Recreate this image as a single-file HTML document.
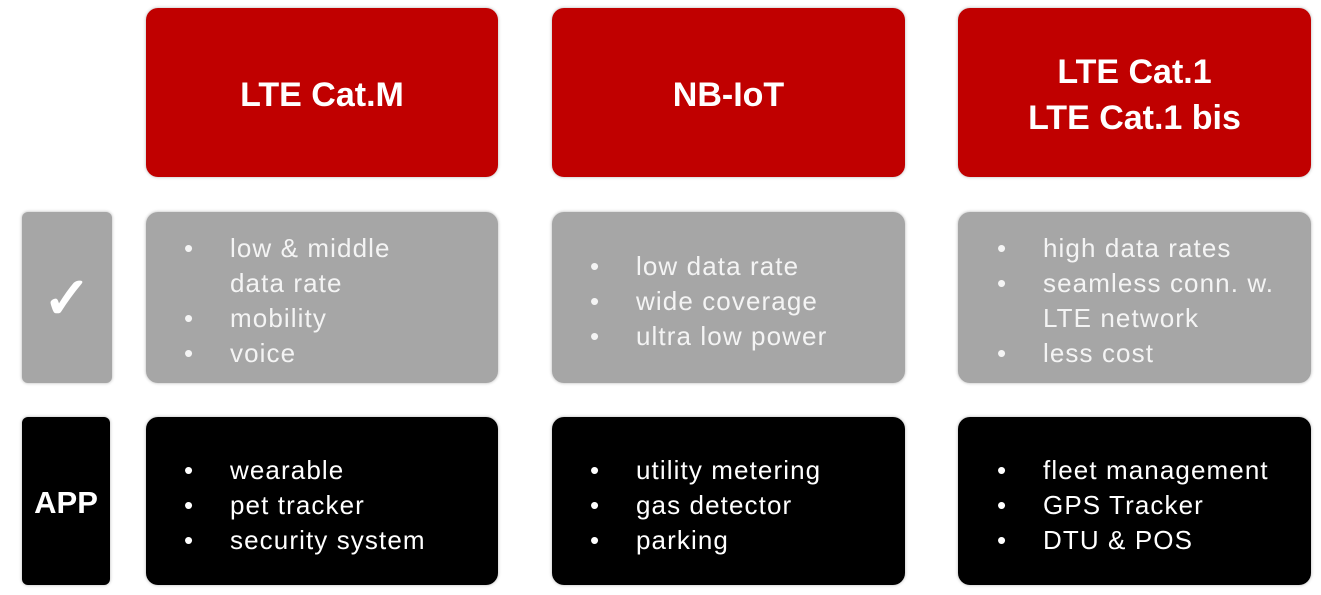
<!DOCTYPE html>
<html><head><style>
body{margin:0;width:1321px;height:595px;background:#fff;position:relative;overflow:hidden;font-family:"Liberation Sans",sans-serif;}
.b{position:absolute;border-radius:12px;box-shadow:0 0 3px rgba(0,0,0,.3);}
.r{background:#c00000;color:#fff;font-weight:bold;font-size:34px;display:flex;align-items:center;justify-content:center;text-align:center;line-height:46px;padding-top:4px;box-sizing:border-box;}
.g{background:#a6a6a6;color:#f4f4f4;}
.k{background:#000;color:#fff;}
.t{position:absolute;font-size:26px;white-space:nowrap;letter-spacing:1.1px;line-height:35px;}
.t span{position:absolute;left:-46px;}
</style></head><body>
<div class="b r" style="left:146px;top:8px;width:352px;height:169px">LTE Cat.M</div>
<div class="b r" style="left:552px;top:8px;width:353px;height:169px">NB-IoT</div>
<div class="b r" style="left:958px;top:8px;width:353px;height:169px">LTE Cat.1<br>LTE Cat.1 bis</div>

<div class="b g" style="left:22px;top:212px;width:90px;height:171px;border-radius:6px;display:flex;align-items:center;justify-content:center;font-size:58px;font-weight:bold;color:#fff">✓</div>
<div class="b g" style="left:146px;top:212px;width:352px;height:171px"></div>
<div class="b g" style="left:552px;top:212px;width:353px;height:171px"></div>
<div class="b g" style="left:958px;top:212px;width:353px;height:171px"></div>

<div class="b k" style="left:22px;top:417px;width:88px;height:168px;border-radius:6px;display:flex;align-items:center;justify-content:center;font-size:31px;font-weight:bold;padding-top:4px;box-sizing:border-box">APP</div>
<div class="b k" style="left:146px;top:417px;width:352px;height:168px"></div>
<div class="b k" style="left:552px;top:417px;width:353px;height:168px"></div>
<div class="b k" style="left:958px;top:417px;width:353px;height:168px"></div>

<div class="t" style="left:230px;top:231px;color:#f4f4f4"><span>•</span>low &amp; middle<br>data rate<br><span style="top:70px">•</span>mobility<br><span style="top:105px">•</span>voice</div>
<div class="t" style="left:636px;top:249px;color:#f4f4f4"><span>•</span>low data rate<br><span style="top:35px">•</span>wide coverage<br><span style="top:70px">•</span>ultra low power</div>
<div class="t" style="left:1043px;top:231px;color:#f4f4f4"><span>•</span>high data rates<br><span style="top:35px">•</span>seamless conn. w.<br>LTE network<br><span style="top:105px">•</span>less cost</div>

<div class="t" style="left:230px;top:453px;color:#fff"><span>•</span>wearable<br><span style="top:35px">•</span>pet tracker<br><span style="top:70px">•</span>security system</div>
<div class="t" style="left:636px;top:453px;color:#fff"><span>•</span>utility metering<br><span style="top:35px">•</span>gas detector<br><span style="top:70px">•</span>parking</div>
<div class="t" style="left:1043px;top:453px;color:#fff"><span>•</span>fleet management<br><span style="top:35px">•</span>GPS Tracker<br><span style="top:70px">•</span>DTU &amp; POS</div>
</body></html>
